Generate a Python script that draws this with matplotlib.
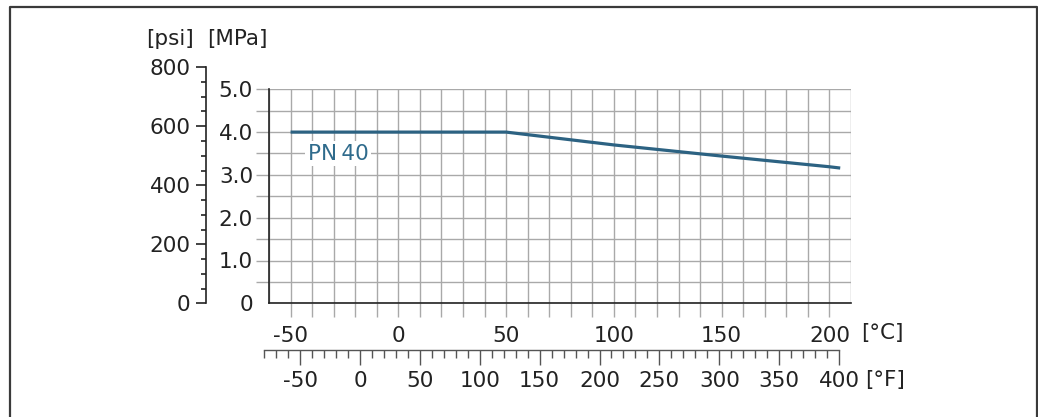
import numpy as np
import matplotlib
matplotlib.use("Agg")
import matplotlib.pyplot as plt
from matplotlib.lines import Line2D

matplotlib.rcParams['font.family'] = ['DejaVu Sans']
matplotlib.rcParams['axes.unicode_minus'] = False

# 数据：PN40 压力-温度曲线
temp_c = [-50, 50, 100, 150, 200, 205]
press_mpa = [4.0, 4.0, 3.70, 3.44, 3.19, 3.16]
curve_label = "PN\u200940"

mpa_ticks = np.arange(0, 5.01, 0.5)
mpa_labels = ["0" if v == 0 else (f"{v:.1f}" if v % 1 == 0 else "") for v in mpa_ticks]
c_ticks = np.arange(-60, 211, 10)
c_labels = [str(v) if v % 50 == 0 and -60 < v < 210 else "" for v in c_ticks]
psi_major = np.arange(0, 801, 200)
psi_minor = np.arange(0, 801, 50)
f_major = np.arange(-50, 401, 50)
f_minor = np.arange(-80, 401, 10)

W, H = 1038, 417
DPI = 100
FS = 15.5
GRID = '#a9a9a9'
DARK = '#222222'
LINE = '#2c6282'

fig = plt.figure(figsize=(W / DPI, H / DPI), dpi=DPI)

# 主坐标轴 (MPa / °C)
x0, x1 = 269, 851
y0, y1 = 303.3, 89.3
ax = fig.add_axes([x0 / W, (H - y0) / H, (x1 - x0) / W, (y0 - y1) / H])
ax.set_xlim(-60, 210)
ax.set_ylim(0, 5)
ax.plot(temp_c, press_mpa, color=LINE, linewidth=2.3, solid_capstyle='butt', zorder=3)
ax.text(-28, 3.5, curve_label, color='#2f6b8c', fontsize=FS, ha='center', va='center',
        bbox=dict(facecolor='white', edgecolor='none', pad=1.5), zorder=4)

ax.set_yticks(mpa_ticks)
ax.set_yticklabels(mpa_labels)
ax.set_xticks(c_ticks)
ax.set_xticklabels(c_labels)
ax.grid(True, color=GRID, linewidth=1.0, zorder=0)
ax.set_axisbelow(True)
ax.tick_params(axis='y', length=9.5, width=1.0, color=GRID, pad=2, labelsize=FS, labelcolor=DARK)
ax.tick_params(axis='x', length=10, width=1.0, color=GRID, pad=6, labelsize=FS, labelcolor=DARK)
ax.yaxis.get_major_ticks()[0].tick1line.set_visible(False)
ax.xaxis.get_major_ticks()[0].tick1line.set_visible(False)
ax.xaxis.get_major_ticks()[-1].tick1line.set_visible(False)
for s in ['top', 'right']:
    ax.spines[s].set_visible(False)
for s in ['left', 'bottom']:
    ax.spines[s].set_color(DARK)
    ax.spines[s].set_linewidth(1.2)
    ax.spines[s].set_zorder(5)

# psi 轴
px_per_mpa = (y0 - y1) / 5
psi_h = 800 / 145.038 * px_per_mpa
axp = fig.add_axes([206 / W, (H - y0) / H, 0.0005, psi_h / H])
axp.set_ylim(0, 800)
axp.set_xticks([])
axp.patch.set_visible(False)
for s in ['top', 'right', 'bottom']:
    axp.spines[s].set_visible(False)
axp.spines['left'].set_color(DARK)
axp.spines['left'].set_linewidth(1.2)
axp.set_yticks(psi_major)
axp.set_yticks(psi_minor, minor=True)
axp.tick_params(axis='y', which='major', length=7, width=1.2, color=DARK, pad=4,
                labelsize=FS, labelcolor=DARK)
axp.tick_params(axis='y', which='minor', length=3.5, width=1.2, color=DARK)

# °F 轴
def c2px(c):
    return x0 + (c + 60) / 270 * (x1 - x0)

fx0 = c2px((-80 - 32) * 5 / 9)
fx1 = c2px((400 - 32) * 5 / 9)
axf = fig.add_axes([fx0 / W, (H - 350) / H, (fx1 - fx0) / W, 0.0005])
axf.set_xlim(-80, 400)
axf.set_yticks([])
axf.patch.set_visible(False)
for s in ['top', 'right', 'left']:
    axf.spines[s].set_visible(False)
axf.spines['bottom'].set_color('#555555')
axf.spines['bottom'].set_linewidth(1.0)
axf.set_xticks(f_major)
axf.set_xticks(f_minor, minor=True)
axf.tick_params(axis='x', which='major', length=11, width=1.0, color='#555555', pad=4,
                labelsize=FS, labelcolor=DARK)
axf.tick_params(axis='x', which='minor', length=5.5, width=1.0, color='#555555')

# 单位标签
fig.text(170 / W, 1 - 39 / H, "[psi]", fontsize=FS, ha='center', va='center', color=DARK)
fig.text(237 / W, 1 - 39 / H, "[MPa]", fontsize=FS, ha='center', va='center', color=DARK)
fig.text(861 / W, 1 - 333 / H, "[°C]", fontsize=FS, ha='left', va='center', color=DARK)
fig.text(865 / W, 1 - 380 / H, "[°F]", fontsize=FS, ha='left', va='center', color=DARK)

# 外框
fig.add_artist(Line2D([10 / W, 10 / W, 1036.5 / W, 1036.5 / W],
                      [0, 1 - 7 / H, 1 - 7 / H, 0], color='#3a3a3a', linewidth=1.6))

fig.savefig("out.png", dpi=DPI)
